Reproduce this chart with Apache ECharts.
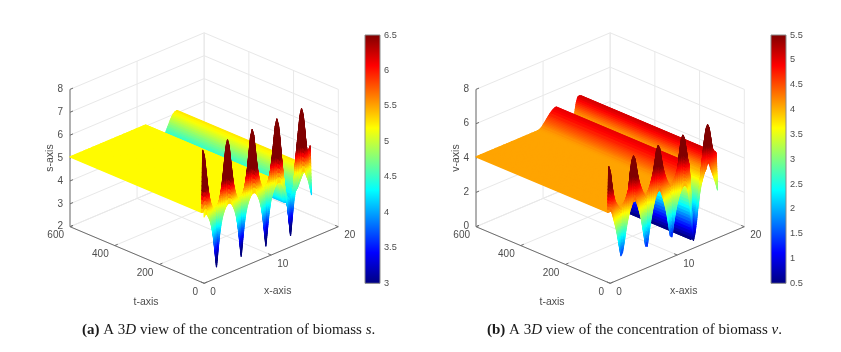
<!DOCTYPE html>
<html>
<head>
<meta charset="UTF-8">
<title>3D view of biomass concentration</title>
<style>
html, body { margin: 0; padding: 0; background: #fff; }
#main { width: 841px; height: 352px; }
</style>
</head>
<body>
<div id="main"></div>
<script src="https://cdn.jsdelivr.net/npm/echarts@6/dist/echarts.min.js"></script>
<script>
var xValues = [0,0.23,0.46,0.69,0.92,1.15,1.38,1.61,1.84,2.07,2.3,2.53,2.76,2.99,3.22,3.45,3.68,3.91,4.14,4.37,4.6,4.83,5.06,5.29,5.52,5.75,5.98,6.21,6.44,6.67,6.9,7.13,7.36,7.59,7.82,8.05,8.28,8.51,8.74,8.97,9.2,9.43,9.66,9.89,10.12,10.35,10.58,10.81,11.04,11.27,11.5,11.73,11.96,12.19,12.42,12.65,12.88,13.11,13.34,13.57,13.8,14.03,14.26,14.49,14.72,14.95,15.18,15.41,15.64,15.87,16];
var tValues = [0, 6, 12, 600];

// biomass s: t=0 edge, fins just behind it, steady profile
var sEdge = [4.9,5.03,4.95,4.8,4.6,4.3,3.85,3.2,2.5,3.2,3.85,4.3,4.6,4.8,4.95,5.03,5.05,5.03,4.95,4.8,4.6,4.3,3.85,3.2,2.5,3.2,3.85,4.3,4.6,4.8,4.95,5.03,5.05,5.03,4.95,4.8,4.6,4.3,3.85,3.2,2.5,3.2,3.85,4.3,4.6,4.8,4.95,5.03,5.05,5.03,4.95,4.8,4.6,4.3,3.85,3.2,2.5,3.2,3.85,4.3,4.6,4.8,4.95,5.05,5.1,5.05,4.9,4.7,4.45,4.1,3.9];
var sFin = [7.78,7.5,6.85,6.2,5.7,5.35,5.15,5.05,5,5.05,5.15,5.35,5.7,6.2,6.85,7.5,7.78,7.5,6.85,6.2,5.7,5.35,5.15,5.05,5,5.05,5.15,5.35,5.7,6.2,6.85,7.5,7.78,7.5,6.85,6.2,5.7,5.35,5.15,5.05,5,5.05,5.15,5.35,5.7,6.2,6.85,7.5,7.78,7.5,6.85,6,5.3,4.7,4.3,4.15,4.1,4.15,4.25,4.6,5.5,6.2,6.85,7.5,7.78,7.5,6.85,6.1,5.7,5.9,6];
var sSteady = [5.05,5.05,5.05,5.05,5.05,5.05,5.05,5.05,5.05,5.05,5.05,5.05,5.05,5.05,5.05,5.05,5.05,5.05,5.05,5.05,5.05,5.05,5.05,5.05,5.05,5.05,5.05,5.05,5.05,5.05,5.05,5.05,5.05,5.05,5.05,5.05,5.05,5.05,5.05,5.05,5.05,5.05,5.05,5.05,5.05,5.05,5.05,5.05,5.05,5.05,4.9,4.6,4.25,4.05,3.95,3.92,3.95,4,4.05,4.12,4.2,4.27,4.35,4.5,4.65,4.8,4.93,5.03,5.08,5.1,5.1];

// biomass v: same three rows
var vEdge = [4.25,4.15,3.8,3.4,3,2.5,1.9,1.35,1.5,2,2.6,3.1,3.5,3.8,4.05,4.25,4.34,4.15,3.85,3.5,3.1,2.55,1.95,1.3,1.25,1.9,2.5,3,3.45,3.8,4.05,4.2,4.28,4.1,3.8,3.45,3.05,2.55,1.95,1.3,1.2,1.85,2.4,2.85,3.2,3.5,3.7,3.85,3.9,3.85,3.7,3.2,2.4,1.4,0.45,0.85,1.5,2.4,3.05,3.55,3.85,4.15,4.45,4.62,4.6,4.3,4,3.7,3.4,3.05,2.8];
var vFin = [6.77,6.4,5.6,5,4.6,4.4,4.25,4.15,4.1,4.2,4.3,4.45,4.7,5,5.95,6.55,6.77,6.55,5.95,5.4,5,4.7,4.45,4.3,4.2,4.3,4.45,4.7,5,5.4,5.95,6.55,6.77,6.55,5.95,5.4,5,4.7,4.45,4.3,4.2,4.25,4.35,4.5,4.75,5.1,5.95,6.55,6.77,6.55,5.95,5.3,4.9,3.4,0.8,1,1.4,2.1,2.8,3.4,4.4,5.2,5.95,6.55,6.77,6.55,5.95,5.3,5.1,5,4.9];
var vSteady = [4.07,4.07,4.07,4.07,4.07,4.07,4.07,4.07,4.07,4.07,4.07,4.07,4.07,4.07,4.07,4.07,4.07,4.07,4.07,4.07,4.07,4.07,4.07,4.07,4.07,4.07,4.07,4.07,4.07,4.07,4.07,4.07,4.07,4.07,4.07,4.07,4.07,4.07,4.07,4.07,4.08,4.1,4.14,4.22,4.33,4.44,4.55,4.67,4.77,4.86,4.93,4.98,5,3,0.45,0.6,1.1,1.7,2.3,2.9,3.4,3.75,3.95,4.05,4.2,4.75,5.05,5.09,5.05,4.95,4.85];

// ticks
var xTicks = [0, 10, 20];
var tTicks = [0, 200, 400, 600];
var sTicks = [2, 3, 4, 5, 6, 7, 8];
var vTicks = [0, 2, 4, 6, 8];

var xEnd = 20, tEnd = 600;
var floorRise = 0.412;   // floor depth on screen, in units of the box height
var sansFont = '"Liberation Sans", Arial, sans-serif';
var serifFont = '"Liberation Serif", "Times New Roman", serif';
var textColor = '#4d4d4d', wallColor = '#e8e8e8', axisColor = '#6e6e6e';

var jetStops = [[0, [0, 0, 128]], [0.125, [0, 0, 255]], [0.375, [0, 255, 255]], [0.625, [255, 255, 0]], [0.875, [255, 0, 0]], [1, [128, 0, 0]]];

function jet(f) {
    f = Math.max(0, Math.min(1, f));
    for (var i = 1; i < jetStops.length; i++) {
        if (f <= jetStops[i][0]) {
            var a = jetStops[i - 1], b = jetStops[i];
            var r = (f - a[0]) / (b[0] - a[0]);
            return 'rgb(' + Math.round(a[1][0] + (b[1][0] - a[1][0]) * r) + ',' +
                Math.round(a[1][1] + (b[1][1] - a[1][1]) * r) + ',' +
                Math.round(a[1][2] + (b[1][2] - a[1][2]) * r) + ')';
        }
    }
    return 'rgb(128,0,0)';
}

// the hidden cartesian axes of a panel take u = across, w = up
function project(api, p, x, t, z) {
    var u = x / xEnd - t / tEnd;
    var w = (x / xEnd + t / tEnd) * floorRise + (z - p.zMin) / (p.zMax - p.zMin);
    return api.coord([u, w]);
}

// walls, floor, axis lines and ticks of one panel
function boxLines(p) {
    var list = [], z0 = p.zMin, z1 = p.zMax;
    function add(a, b, c, d, e, f, color) { list.push([a, b, c, d, e, f, color]); }
    p.zTicks.forEach(function (z) {
        add(0, tEnd, z, xEnd, tEnd, z, wallColor);
        add(xEnd, 0, z, xEnd, tEnd, z, wallColor);
    });
    xTicks.forEach(function (x) {
        add(x, tEnd, z0, x, tEnd, z1, wallColor);
        add(x, 0, z0, x, tEnd, z0, wallColor);
    });
    tTicks.forEach(function (t) {
        add(xEnd, t, z0, xEnd, t, z1, wallColor);
        add(0, t, z0, xEnd, t, z0, wallColor);
    });
    add(0, 0, z0, xEnd, 0, z0, axisColor);
    add(0, 0, z0, 0, tEnd, z0, axisColor);
    add(0, tEnd, z0, 0, tEnd, z1, axisColor);
    xTicks.forEach(function (x) { add(x, 0, z0, x, 14, z0, axisColor); });
    tTicks.forEach(function (t) { add(0, t, z0, 0.45, t, z0, axisColor); });
    p.zTicks.forEach(function (z) { add(0, tEnd, z, 0.45, tEnd, z, axisColor); });
    return list;
}

function lineSeries(p) {
    var list = boxLines(p);
    return {
        type: 'custom', xAxisIndex: p.box, yAxisIndex: p.box, silent: true, clip: false, z: 1,
        data: list.map(function (l, i) { return [i, 0]; }),
        encode: { x: 0, y: 1 },
        renderItem: function (params, api) {
            var l = list[params.dataIndex];
            var a = project(api, p, l[0], l[1], l[2]), b = project(api, p, l[3], l[4], l[5]);
            return {
                type: 'line',
                shape: { x1: a[0], y1: a[1], x2: b[0], y2: b[1] },
                style: { stroke: l[6], lineWidth: 1 }
            };
        }
    };
}

// one cell between two x samples and two t rows, shaded like MATLAB's interp
function cellItem(api, p, i, j) {
    var r0 = p.rows[j], r1 = p.rows[j + 1];
    var x0 = xValues[i], x1 = xValues[i + 1], t0 = tValues[j], t1 = tValues[j + 1];
    var a = r0[i], b = r0[i + 1], c = r1[i], d = r1[i + 1];
    var nx = Math.min(14, Math.max(1, Math.ceil(Math.max(Math.abs(a - b), Math.abs(c - d)) / 0.1)));
    var nt = Math.min(14, Math.max(1, Math.ceil(Math.max(Math.abs(a - c), Math.abs(b - d)) / 0.1)));
    function zAt(fx, ft) {
        return (a * (1 - fx) + b * fx) * (1 - ft) + (c * (1 - fx) + d * fx) * ft;
    }
    var kids = [];
    // far sub-cells first
    for (var m = nt - 1; m >= 0; m--) {
        for (var n = nx - 1; n >= 0; n--) {
            var fx0 = n / nx, fx1 = (n + 1) / nx, ft0 = m / nt, ft1 = (m + 1) / nt;
            var xa = x0 + (x1 - x0) * fx0, xb = x0 + (x1 - x0) * fx1;
            var ta = t0 + (t1 - t0) * ft0, tb = t0 + (t1 - t0) * ft1;
            var zc = zAt((fx0 + fx1) / 2, (ft0 + ft1) / 2);
            // colour read-off: the pictures saturate a little sooner than the box scale says
            var cv = zc + p.colorShift + Math.max(0, zc - p.flat) * p.colorGain;
            var col = jet((cv - p.cMin) / (p.cMax - p.cMin));
            kids.push({
                type: 'polygon',
                shape: { points: [
                    project(api, p, xa, ta, zAt(fx0, ft0)),
                    project(api, p, xb, ta, zAt(fx1, ft0)),
                    project(api, p, xb, tb, zAt(fx1, ft1)),
                    project(api, p, xa, tb, zAt(fx0, ft1))
                ] },
                // thick enough that what lies behind does not bleed through the seams
                style: { fill: col, stroke: col, lineWidth: 1.2, lineJoin: 'round' }
            });
        }
    }
    return { type: 'group', children: kids };
}

function surfaceSeries(p) {
    // painter's order: far rows first, high x first
    var cells = [];
    for (var j = tValues.length - 2; j >= 0; j--) {
        for (var i = xValues.length - 2; i >= 0; i--) {
            cells.push([i, j]);
        }
    }
    return {
        type: 'custom', xAxisIndex: p.box, yAxisIndex: p.box, silent: true, clip: false, z: 2,
        progressive: 0,
        data: cells,
        encode: { x: 0, y: 1 },
        renderItem: function (params, api) {
            var c = cells[params.dataIndex];
            return cellItem(api, p, c[0], c[1]);
        }
    };
}

function labelSeries(p) {
    var labels = [];
    xTicks.forEach(function (x) { labels.push({ text: String(x), x: x, t: 0, z: p.zMin, dx: 6, dy: 9, align: 'left', size: 10 }); });
    tTicks.forEach(function (t) { labels.push({ text: String(t), x: 0, t: t, z: p.zMin, dx: -6, dy: 9, align: 'right', size: 10 }); });
    p.zTicks.forEach(function (z) { labels.push({ text: String(z), x: 0, t: tEnd, z: z, dx: -7, dy: 0, align: 'right', size: 10 }); });
    labels.push({ text: 'x-axis', x: 10, t: 0, z: p.zMin, dx: 6.5, dy: 36.5, align: 'center', size: 10.5 });
    labels.push({ text: 't-axis', x: 0, t: 300, z: p.zMin, dx: 9, dy: 47, align: 'center', size: 10.5 });
    labels.push({ text: p.zName, x: 0, t: tEnd, z: p.zMin + (p.zMax - p.zMin) / 2, dx: -19.5, dy: 0, align: 'center', size: 10.5, rotate: Math.PI / 2 });
    return {
        type: 'custom', xAxisIndex: p.box, yAxisIndex: p.box, silent: true, clip: false, z: 3,
        data: labels.map(function (l, i) { return [i, 0]; }),
        encode: { x: 0, y: 1 },
        renderItem: function (params, api) {
            var l = labels[params.dataIndex];
            var a = project(api, p, l.x, l.t, l.z);
            return {
                type: 'text',
                x: a[0] + l.dx,
                y: a[1] + l.dy,
                rotation: l.rotate || 0,
                style: {
                    text: l.text, fill: textColor, fontSize: l.size, fontFamily: sansFont,
                    align: l.align, verticalAlign: 'middle'
                }
            };
        }
    };
}

function colorbarSeries(p) {
    return {
        type: 'custom', xAxisIndex: p.box + 1, yAxisIndex: p.box + 1, silent: true, z: 1,
        data: [[0, p.cMax]],
        encode: { x: 0, y: 1 },
        renderItem: function (params, api) {
            var a = api.coord([0, p.cMax]), b = api.coord([1, p.cMin]);
            return {
                type: 'rect',
                shape: { x: a[0], y: a[1], width: b[0] - a[0], height: b[1] - a[1] },
                style: {
                    fill: new echarts.graphic.LinearGradient(0, 1, 0, 0, jetStops.map(function (s) {
                        return { offset: s[0], color: 'rgb(' + s[1].join(',') + ')' };
                    })),
                    stroke: '#8a8a8a', lineWidth: 1
                }
            };
        }
    };
}

var panelA = { box: 0, left: 70, barLeft: 365, rows: [sEdge, sFin, sSteady, sSteady], zMin: 2, zMax: 8, zTicks: sTicks, zName: 's-axis', cMin: 3, cMax: 6.5, colorShift: 0.15, colorGain: 0.3, flat: 5.05 };
var panelB = { box: 2, left: 476, barLeft: 771, rows: [vEdge, vFin, vSteady, vSteady], zMin: 0, zMax: 8, zTicks: vTicks, zName: 'v-axis', cMin: 0.5, cMax: 5.5, colorShift: 0, colorGain: 0, flat: 4.07 };
var panels = [panelA, panelB];

var grids = [], xAxes = [], yAxes = [], series = [];
panels.forEach(function (p) {
    grids.push({ left: p.left, top: 32.8, width: 268.3, height: 250.5 });
    grids.push({ left: p.barLeft, top: 35, width: 15, height: 248.3 });
    xAxes.push({ type: 'value', gridIndex: p.box, min: -1, max: 1, show: false });
    yAxes.push({ type: 'value', gridIndex: p.box, min: 0, max: 1 + 2 * floorRise, show: false });
    xAxes.push({ type: 'value', gridIndex: p.box + 1, min: 0, max: 1, show: false });
    yAxes.push({
        type: 'value', gridIndex: p.box + 1, position: 'right', min: p.cMin, max: p.cMax, interval: 0.5,
        axisLine: { show: false },
        axisTick: { show: false },
        splitLine: { show: false },
        axisLabel: { color: textColor, fontSize: 9.2, fontFamily: sansFont, margin: 4 }
    });
    series.push(lineSeries(p), surfaceSeries(p), labelSeries(p), colorbarSeries(p));
});

function captionStyle() {
    return {
        color: '#1a1a1a', fontSize: 15, fontWeight: 'normal', fontFamily: serifFont,
        rich: {
            b: { fontWeight: 'bold', fontSize: 15, fontFamily: serifFont, color: '#1a1a1a' },
            i: { fontStyle: 'italic', fontSize: 15, fontFamily: serifFont, color: '#1a1a1a' }
        }
    };
}

var option = {
    animation: false,
    backgroundColor: '#ffffff',
    title: [
        { text: '{b|(a)} A 3{i|D} view of the concentration of biomass {i|s}.', left: 82, top: 323, padding: 0, textStyle: captionStyle() },
        { text: '{b|(b)} A 3{i|D} view of the concentration of biomass {i|v}.', left: 487, top: 323, padding: 0, textStyle: captionStyle() }
    ],
    grid: grids,
    xAxis: xAxes,
    yAxis: yAxes,
    series: series
};

var myChart = echarts.init(document.getElementById('main'), null, { renderer: 'canvas' });
myChart.setOption(option);
</script>
</body>
</html>
